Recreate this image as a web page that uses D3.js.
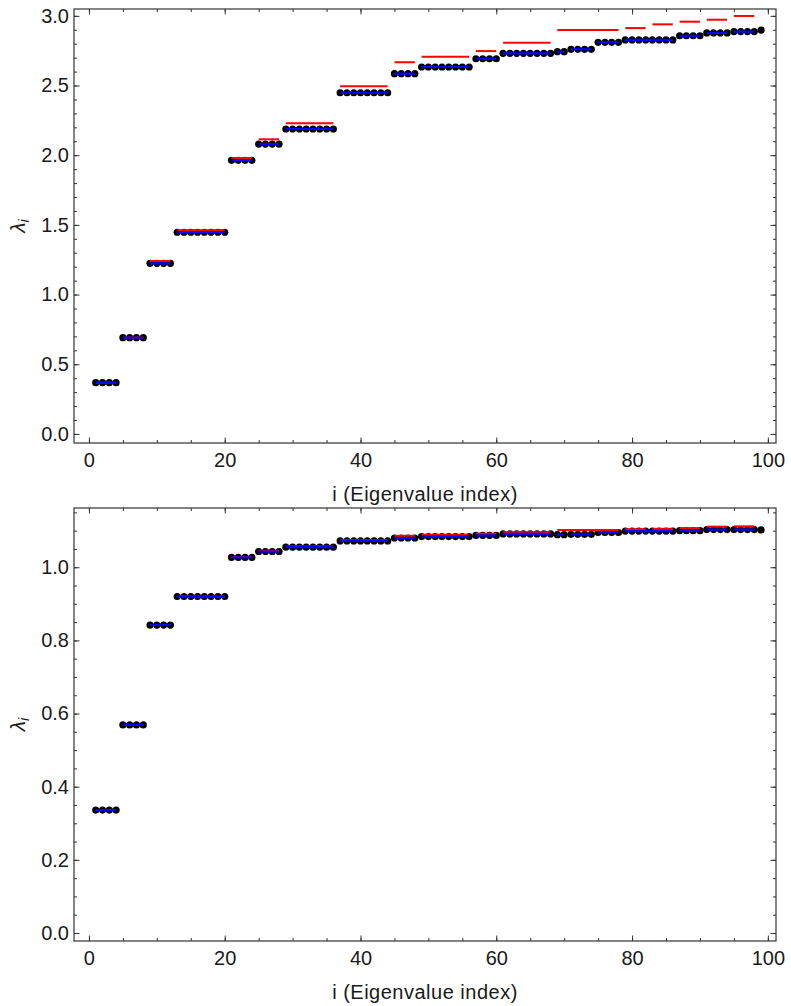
<!DOCTYPE html>
<html>
<head>
<meta charset="utf-8">
<script src="https://cdn.jsdelivr.net/npm/d3@7"></script>
<style>
  body { margin: 0; background: #fff; }
  text { font-family: "Liberation Sans", Arial, sans-serif; fill: #1a1a1a; }
</style>
</head>
<body>
<div id="chart"></div>
<script>
// sizes of the degenerate groups (black points + blue lines), i = 1..99
var groupSizes = [4, 4, 4, 8, 4, 4, 8, 8, 4, 8, 4, 8, 2, 4, 4, 8, 4, 4, 4, 1];
var topValues = [0.368, 0.691, 1.224, 1.447, 1.963, 2.080, 2.188, 2.448, 2.585, 2.633,
                 2.692, 2.731, 2.743, 2.760, 2.810, 2.827, 2.857, 2.877, 2.887, 2.898];
var bottomValues = [0.336, 0.569, 0.842, 0.920, 1.027, 1.043, 1.055, 1.072, 1.080, 1.084,
                    1.087, 1.091, 1.089, 1.090, 1.095, 1.099, 1.100, 1.103, 1.103, 1.102];

// sizes of the approximate levels (red lines)
var redSizes = [4, 4, 4, 8, 4, 4, 8, 8, 4, 8, 4, 8, 10, 4, 4, 4, 4, 4];
var topRed = [0.368, 0.691, 1.241, 1.461, 1.980, 2.114, 2.229, 2.494, 2.667, 2.707,
              2.747, 2.807, 2.898, 2.912, 2.939, 2.958, 2.972, 2.999];
var bottomRed = [0.336, 0.569, 0.842, 0.920, 1.028, 1.045, 1.057, 1.074, 1.086, 1.089,
                 1.092, 1.096, 1.102, 1.104, 1.105, 1.107, 1.111, 1.112];

// tick labels
var xTicks = [0, 20, 40, 60, 80, 100];
var topYTicks = [0, 0.5, 1, 1.5, 2, 2.5, 3];
var bottomYTicks = [0, 0.2, 0.4, 0.6, 0.8, 1];

var xLabel = "i (Eigenvalue index)";

var W = 791, H = 1006;
var left = 74, right = 776;

var svg = d3.select("#chart")
  .append("svg")
    .attr("width", W)
    .attr("height", H);

// turn group sizes into {start, end, value}
function toGroups(sizes, values) {
  var start = 1;
  return sizes.map(function(n, k) {
    var g = {start: start, end: start + n - 1, value: values[k]};
    start += n;
    return g;
  });
}

function drawPanel(opt) {
  var x = d3.scaleLinear().domain([-2.2, 101.2]).range([left, right]);
  var y = d3.scaleLinear().domain(opt.yDomain).range([opt.bottom, opt.top]);
  var g = svg.append("g");

  var xMinor = d3.range(0, 101, 5);
  var yMinor = d3.range(0, opt.yMax + 1e-9, opt.yStep).map(function(v) { return +v.toFixed(3); });

  // bottom axis with labels
  g.append("g")
    .attr("transform", "translate(0," + opt.bottom + ")")
    .call(d3.axisBottom(x).tickValues(xMinor).tickSize(-3).tickFormat(""));
  g.append("g")
    .attr("transform", "translate(0," + opt.bottom + ")")
    .call(d3.axisBottom(x).tickValues(xTicks).tickSize(-5.5).tickPadding(10).tickFormat(d3.format("d")));
  // top axis, ticks only
  g.append("g")
    .attr("transform", "translate(0," + opt.top + ")")
    .call(d3.axisTop(x).tickValues(xMinor).tickSize(-3).tickFormat(""));
  g.append("g")
    .attr("transform", "translate(0," + opt.top + ")")
    .call(d3.axisTop(x).tickValues(xTicks).tickSize(-5.5).tickFormat(""));
  // left axis with labels
  g.append("g")
    .attr("transform", "translate(" + left + ",0)")
    .call(d3.axisLeft(y).tickValues(yMinor).tickSize(-3).tickFormat(""));
  g.append("g")
    .attr("transform", "translate(" + left + ",0)")
    .call(d3.axisLeft(y).tickValues(opt.yTicks).tickSize(-5.5).tickPadding(5).tickFormat(d3.format(".1f")));
  // right axis, ticks only
  g.append("g")
    .attr("transform", "translate(" + right + ",0)")
    .call(d3.axisRight(y).tickValues(yMinor).tickSize(-3).tickFormat(""));
  g.append("g")
    .attr("transform", "translate(" + right + ",0)")
    .call(d3.axisRight(y).tickValues(opt.yTicks).tickSize(-5.5).tickFormat(""));

  g.selectAll(".domain").remove();
  g.selectAll(".tick line").attr("stroke", "#333").attr("stroke-width", 1);
  g.selectAll(".tick text")
    .style("font-size", "20px")
    .style("font-family", "'Liberation Sans', Arial, sans-serif")
    .attr("fill", "#1a1a1a");

  // frame
  g.append("rect")
    .attr("x", left)
    .attr("y", opt.top)
    .attr("width", right - left)
    .attr("height", opt.bottom - opt.top)
    .attr("fill", "none")
    .attr("stroke", "#333")
    .attr("stroke-width", 1.2);

  var groups = toGroups(groupSizes, opt.values);
  var reds = toGroups(redSizes, opt.red);

  var points = [];
  groups.forEach(function(d) {
    for (var i = d.start; i <= d.end; i++) points.push([i, d.value]);
  });

  // black points
  g.selectAll(".pt")
    .data(points)
    .enter().append("circle")
      .attr("cx", function(d) { return x(d[0]); })
      .attr("cy", function(d) { return y(d[1]); })
      .attr("r", 3.6)
      .attr("fill", "#000");

  // red levels
  g.selectAll(".red")
    .data(reds)
    .enter().append("line")
      .attr("x1", function(d) { return x(d.start); })
      .attr("x2", function(d) { return x(d.end); })
      .attr("y1", function(d) { return y(d.value); })
      .attr("y2", function(d) { return y(d.value); })
      .attr("stroke", "#ff0000")
      .attr("stroke-width", 2);

  // blue levels
  g.selectAll(".blue")
    .data(groups.filter(function(d) { return d.end > d.start; }))
    .enter().append("line")
      .attr("x1", function(d) { return x(d.start); })
      .attr("x2", function(d) { return x(d.end); })
      .attr("y1", function(d) { return y(d.value); })
      .attr("y2", function(d) { return y(d.value); })
      .attr("stroke", "#0000ff")
      .attr("stroke-width", 2.2);

  // axis titles
  g.append("text")
    .attr("x", (left + right) / 2)
    .attr("y", opt.bottom + 58)
    .attr("text-anchor", "middle")
    .style("font-size", "20px")
    .style("letter-spacing", "0.5px")
    .text(xLabel);

  var yl = g.append("text")
    .attr("transform", "translate(25," + (opt.top + opt.bottom) / 2 + ") rotate(-90)")
    .attr("text-anchor", "middle")
    .style("font-size", "21px");
  yl.append("tspan").style("font-style", "italic").text("λ");
  yl.append("tspan").style("font-style", "italic").style("font-size", "14px")
    .attr("dy", "4").text("i");
}

drawPanel({
  top: 9, bottom: 443,
  yDomain: [-0.065, 3.049],
  yTicks: topYTicks, yMax: 3.0, yStep: 0.1,
  values: topValues, red: topRed
});

drawPanel({
  top: 508, bottom: 941,
  yDomain: [-0.0219, 1.162],
  yTicks: bottomYTicks, yMax: 1.15, yStep: 0.05,
  values: bottomValues, red: bottomRed
});
</script>
</body>
</html>
